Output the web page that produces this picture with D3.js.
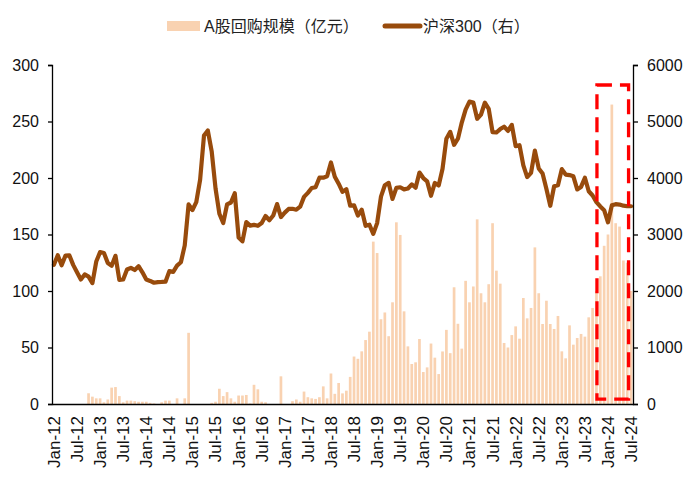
<!DOCTYPE html>
<html><head><meta charset="utf-8">
<script src="https://cdn.jsdelivr.net/npm/d3@7"></script>
<style>
html,body{margin:0;padding:0;background:#fff;}
svg{display:block;font-family:"Liberation Sans",Arial,"Noto Sans CJK SC",sans-serif;}
</style></head>
<body>
<svg id="chart" width="700" height="483"></svg>
<script>
// ---- data ----
const years = ["12","13","14","15","16","17","18","19","20","21","22","23","24"];
const monthNames = ["Jan","Feb","Mar","Apr","May","Jun","Jul","Aug","Sep","Oct","Nov","Dec"];
const buyback = [
  0,0,0,0,0,0,0,0,0,9.5,6.5,5,
  5,1.5,4,14.5,15,7,1.5,3,3,2.5,2,2,
  2,1,0.5,0,1.5,3,3,0,5,0,5,63,
  0,0,0,0,0,1,2,13.5,7,10.5,5,2,
  7.5,7.5,8,0.5,17,13,2,1.5,0,0,0,24.5,
  0,0,2.5,4,2,11,6,5,4.5,6,15.6,5,
  27,9,18.6,9.4,11.8,24,42,40,46.6,56.6,64,143.7,
  133.6,75,81,60,90,160.8,149.6,82,51,35.4,36.9,57.5,
  28.3,32.4,53.5,41,26.5,46.5,65.6,45,103.3,71,49,109,
  90,104,163.4,98,90,106,160,118,106.5,54,50,61,
  68.7,57.8,93.8,75.8,85,138.6,98,70.8,91.4,70.8,66.4,77.9,
  46.6,40.4,69.6,52.5,58.4,62,59.6,76.7,85,100,113,140,
  150,265,160,157,127,125,100
];
const csi300 = [
  2464,2634,2455,2626,2632,2462,2332,2204,2293,2254,2140,2522,
  2688,2673,2495,2448,2623,2195,2203,2381,2410,2372,2440,2330,
  2203,2178,2146,2158,2160,2165,2352,2339,2450,2509,2808,3533,
  3434,3572,3972,4750,4840,4473,3816,3367,3203,3534,3566,3731,
  2947,2878,3218,3157,3170,3154,3203,3327,3253,3336,3538,3310,
  3387,3452,3456,3439,3492,3666,3737,3822,3837,4006,4006,4031,
  4275,4023,3899,3756,3802,3510,3517,3335,3439,3153,3173,3011,
  3202,3670,3872,3913,3630,3826,3836,3799,3814,3886,3829,4097,
  3999,3940,3686,3913,3868,4164,4696,4817,4588,4695,4981,5211,
  5352,5336,5048,5124,5332,5224,4812,4806,4866,4908,4833,4940,
  4563,4581,4222,4016,4091,4485,4170,4079,3804,3508,3854,3872,
  4157,4061,4051,4030,3798,3842,4004,3765,3690,3573,3496,3431,
  3216,3516,3537,3530,3510,3500,3500
];
const leftTicks = [0,50,100,150,200,250,300];
const rightTicks = [0,1000,2000,3000,4000,5000,6000];
const seriesNames = ["A股回购规模（亿元）", "沪深300（右）"];
const highlight = ["Nov-23", "Jun-24"];

// ---- setup ----
const months = [];
years.forEach(y => monthNames.forEach(mn => months.push(mn + "-" + y)));
months.length = buyback.length; // Jan-12 .. Jul-24
const tickLabels = months.filter((d, i) => i % 6 === 0);

const svg = d3.select("#chart");
const W = 700, H = 483;
const M = {left: 52, right: 700 - 633, top: 65, bottom: 483 - 404};
const barColor = "#F9D2B1", lineColor = "#984B0C";

const x = d3.scaleBand().domain(months).range([M.left, W - M.right]).paddingInner(0.3).paddingOuter(0.15);
const xc = d => x(d) + x.bandwidth() / 2;
const yL = d3.scaleLinear().domain([0, 300]).range([H - M.bottom, M.top]);
const yR = d3.scaleLinear().domain([0, 6000]).range([H - M.bottom, M.top]);

const rows = months.map((d, i) => ({m: d, b: buyback[i], c: csi300[i]}));

// bars
svg.append("g").selectAll("rect").data(rows).join("rect")
  .attr("x", d => x(d.m)).attr("width", x.bandwidth())
  .attr("y", d => yL(d.b))
  .attr("height", d => yL(0) - yL(d.b))
  .attr("fill", barColor);

// line
const line = d3.line().x(d => xc(d.m)).y(d => yR(d.c));
svg.append("path").datum(rows).attr("d", line)
  .attr("fill", "none").attr("stroke", lineColor).attr("stroke-width", 4.2)
  .attr("stroke-linejoin", "round").attr("stroke-linecap", "round");

// axes
const axL = svg.append("g").attr("transform", `translate(${M.left},0)`)
  .call(d3.axisLeft(yL).tickValues(leftTicks).tickSize(4).tickPadding(9).tickFormat(d3.format("d")));
const axR = svg.append("g").attr("transform", `translate(${W - M.right},0)`)
  .call(d3.axisRight(yR).tickValues(rightTicks).tickSize(5).tickPadding(9).tickFormat(d3.format("d")));
const axB = svg.append("g").attr("transform", `translate(0,${H - M.bottom})`)
  .call(d3.axisBottom(x).tickValues(tickLabels).tickSize(0).tickPadding(0));
[axL, axR].forEach(a => {
  a.select(".domain").attr("stroke", "#000").attr("stroke-width", 1.3);
  a.selectAll(".tick line").attr("stroke", "#000").attr("stroke-width", 1.3);
  a.selectAll("text").attr("font-size", 16).attr("fill", "#111")
    .attr("font-family", '"Liberation Sans",Arial,sans-serif');
});
axB.select(".domain").attr("stroke", "#000").attr("stroke-width", 1.3);
axB.selectAll(".tick text")
  .attr("font-size", 17).attr("fill", "#111")
  .attr("font-family", '"Liberation Sans",Arial,sans-serif')
  .attr("text-anchor", "end")
  .attr("transform", "translate(0,12) rotate(-90)")
  .attr("x", 0).attr("y", 0).attr("dy", "0.35em");

// highlight box (red dashed)
const bx0 = x(highlight[0]) - 2, bx1 = x(highlight[1]) + x.bandwidth();
svg.append("rect")
  .attr("x", bx0).attr("y", yR(5646))
  .attr("width", bx1 - bx0).attr("height", yR(88) - yR(5646))
  .attr("fill", "none").attr("stroke", "#FF0000").attr("stroke-width", 3.3)
  .attr("stroke-dasharray", "15,8");

// legend
const lg = svg.append("g").attr("font-size", 16).attr("fill", "#222")
  .attr("font-family", '"Liberation Sans","Noto Sans CJK SC",sans-serif');
const ly = 26;
lg.append("rect").attr("x", 167).attr("y", ly - 5).attr("width", 33).attr("height", 10).attr("fill", barColor);
lg.append("text").attr("x", 204).attr("y", ly).attr("dy", "0.36em").text(seriesNames[0]);
lg.append("line").attr("x1", 385).attr("x2", 420).attr("y1", ly).attr("y2", ly)
  .attr("stroke", lineColor).attr("stroke-width", 5).attr("stroke-linecap", "round");
lg.append("text").attr("x", 423).attr("y", ly).attr("dy", "0.36em").text(seriesNames[1]);
</script>
</body></html>
